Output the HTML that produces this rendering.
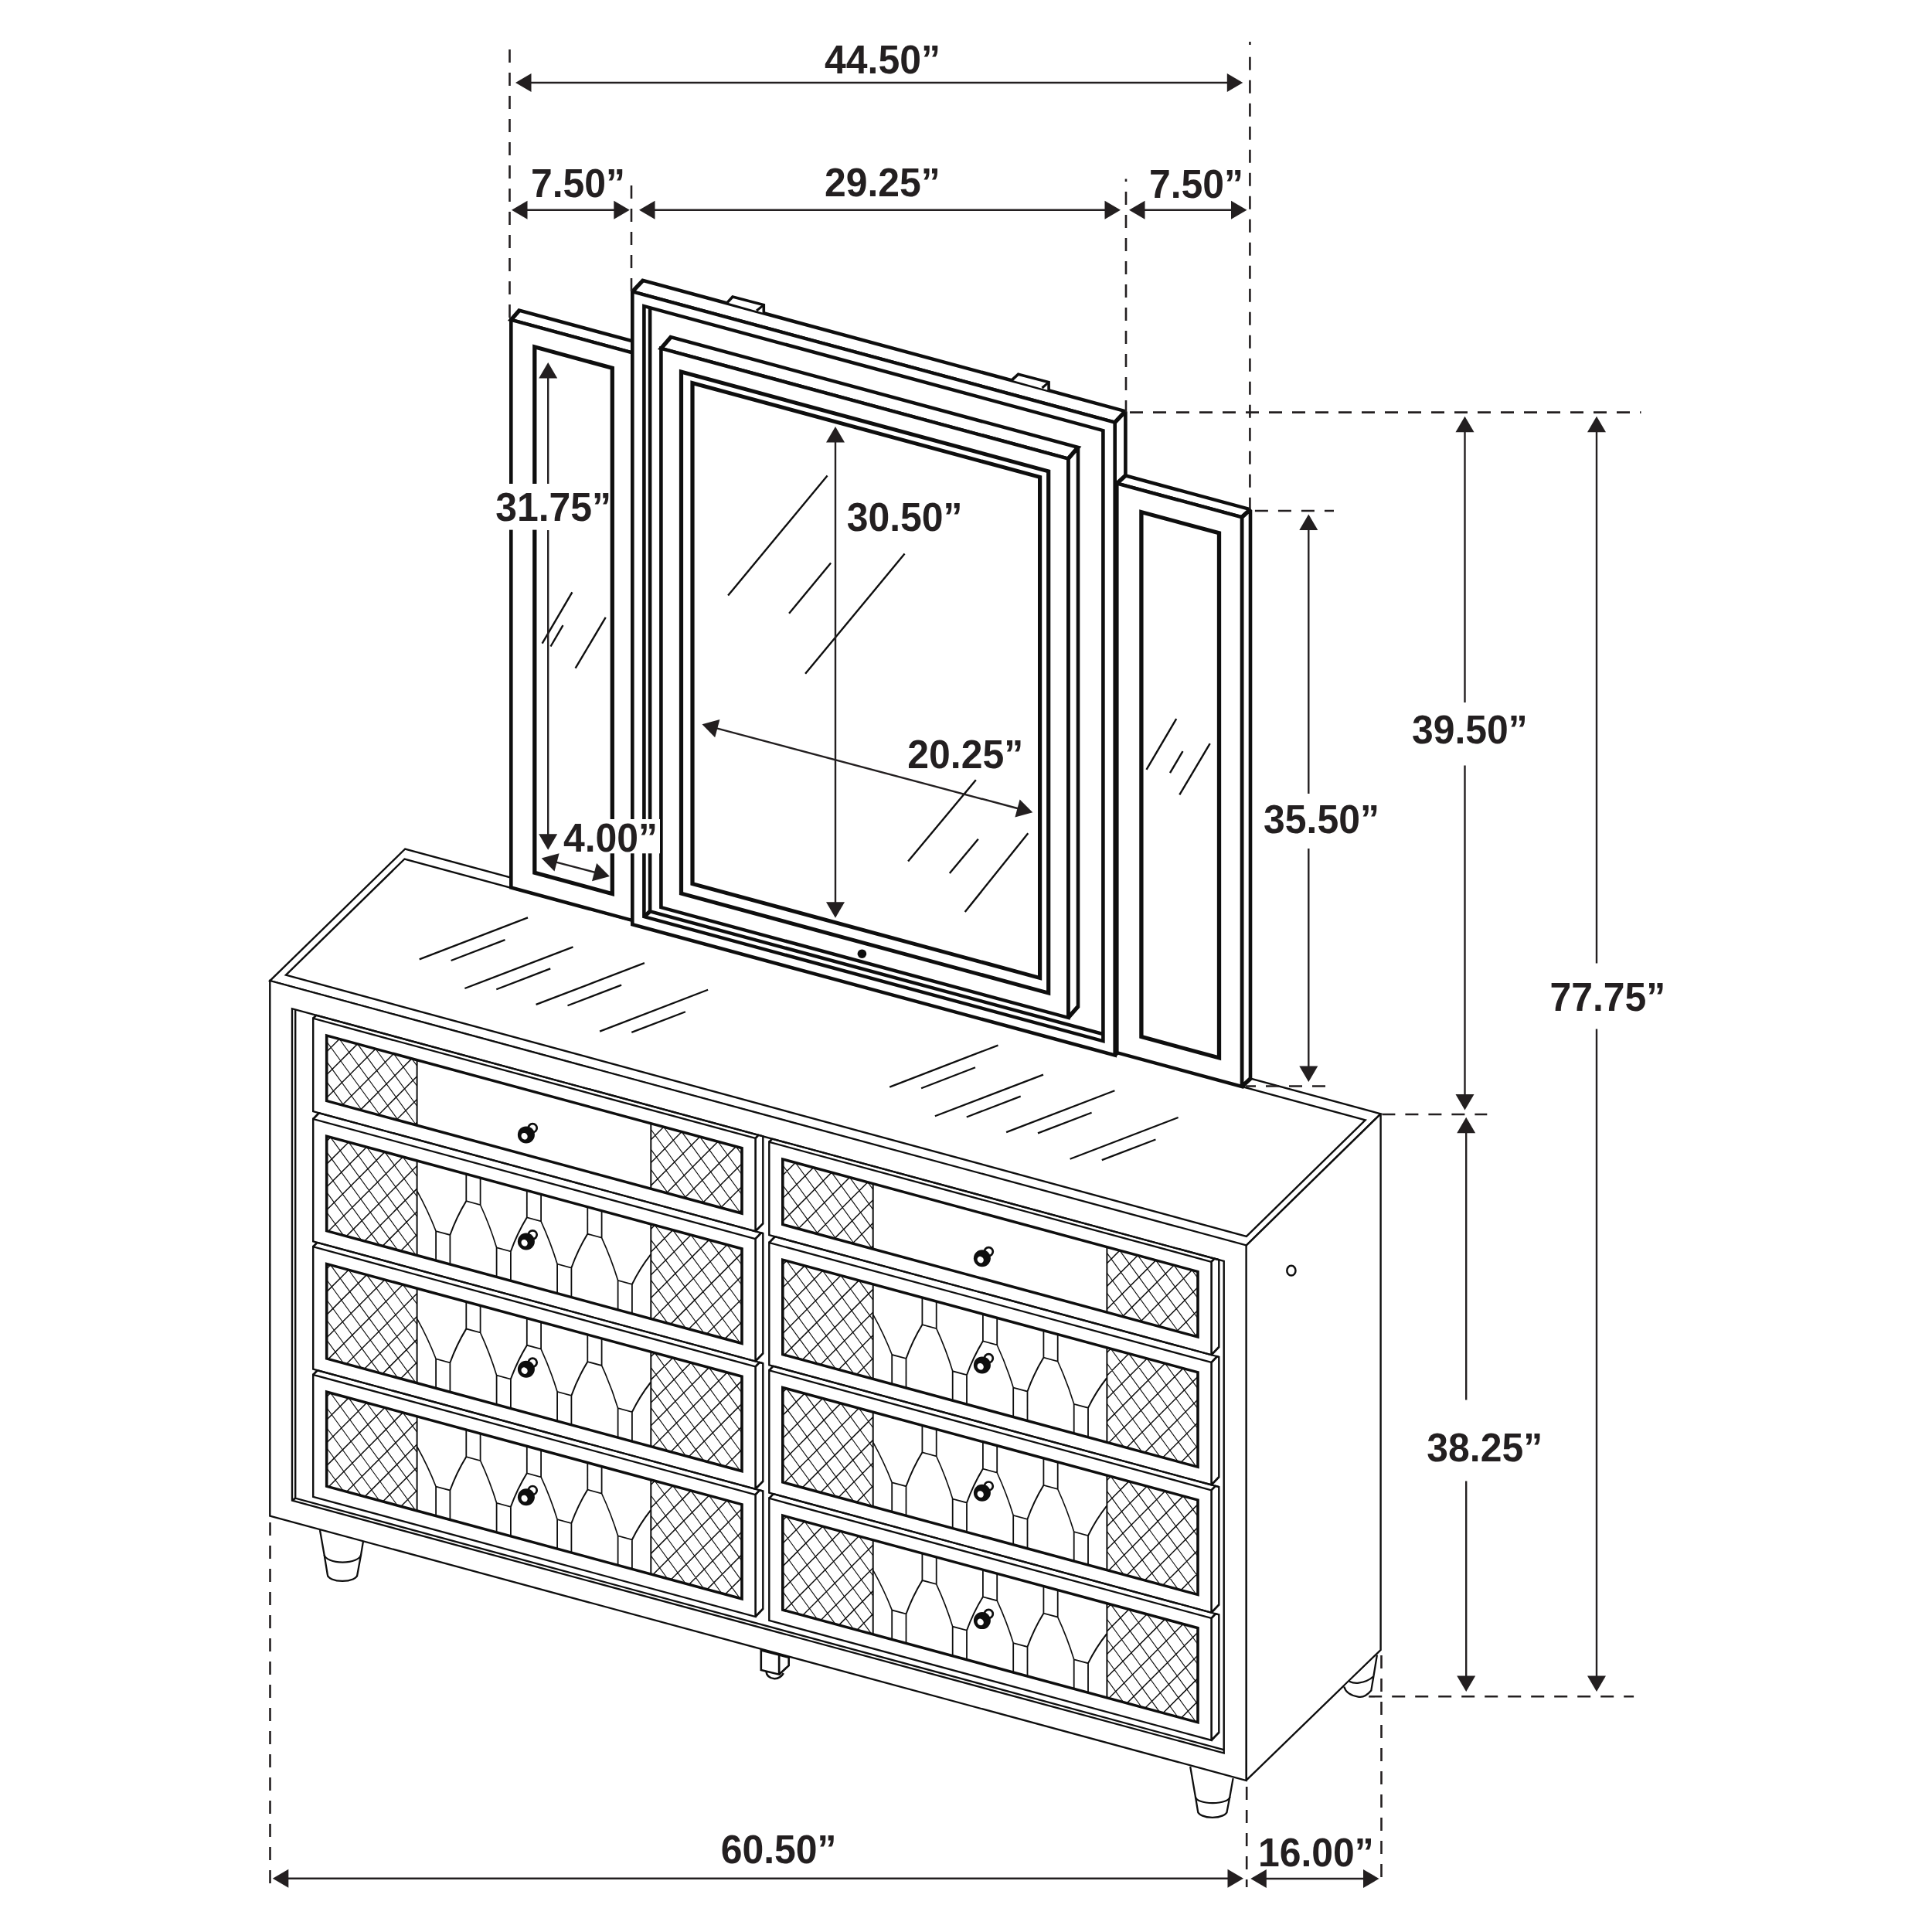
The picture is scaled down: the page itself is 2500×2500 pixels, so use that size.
<!DOCTYPE html>
<html><head><meta charset="utf-8"><title>Dresser and Mirror Dimensions</title>
<style>
html,body{margin:0;padding:0;background:#fff;}
body{width:2500px;height:2500px;overflow:hidden;}
svg{display:block;}
svg text{font-family:"Liberation Sans",sans-serif;font-weight:bold;fill:#231f20;}
</style></head><body>
<svg xmlns="http://www.w3.org/2000/svg" width="2500" height="2500" viewBox="0 0 2500 2500" stroke-linecap="butt" stroke-miterlimit="2.2">
<rect width="2500" height="2500" fill="#fff"/>
<polygon points="349.3,1269.1 524.2,1098.5 1786.6,1441.3 1611.9,1612.3" fill="#fff" stroke="#0e0e0e" stroke-width="2.4" stroke-linejoin="miter"/>
<polygon points="370,1261.6 523.5,1111.5 1766.7,1449.4 1612.9,1599.9" fill="none" stroke="#0e0e0e" stroke-width="2.4" stroke-linejoin="miter"/>
<polygon points="1611.9,1612.3 1786.6,1441.3 1786.6,2135 1612.7,2303.7" fill="#fff" stroke="#0e0e0e" stroke-width="2.4" stroke-linejoin="miter"/>
<ellipse cx="1670.9" cy="1644.2" rx="5.6" ry="6.4" fill="none" stroke="#0e0e0e" stroke-width="2.5"/>
<line x1="542.7" y1="1241.4" x2="683" y2="1187.4" stroke="#0e0e0e" stroke-width="2.3"/>
<line x1="583.6" y1="1243" x2="653.5" y2="1216.1" stroke="#0e0e0e" stroke-width="2.3"/>
<line x1="601.4" y1="1279" x2="741.5" y2="1225.4" stroke="#0e0e0e" stroke-width="2.3"/>
<line x1="642.3" y1="1280.3" x2="712.2" y2="1253.4" stroke="#0e0e0e" stroke-width="2.3"/>
<line x1="693.6" y1="1299.9" x2="833.9" y2="1246.1" stroke="#0e0e0e" stroke-width="2.3"/>
<line x1="734.5" y1="1301.2" x2="804.1" y2="1274.6" stroke="#0e0e0e" stroke-width="2.3"/>
<line x1="776.1" y1="1334.6" x2="916.1" y2="1280.8" stroke="#0e0e0e" stroke-width="2.3"/>
<line x1="817.3" y1="1335.9" x2="886.9" y2="1309.3" stroke="#0e0e0e" stroke-width="2.3"/>
<line x1="1151.2" y1="1406.6" x2="1291.5" y2="1352.6" stroke="#0e0e0e" stroke-width="2.3"/>
<line x1="1192.1" y1="1408.2" x2="1262" y2="1381.3" stroke="#0e0e0e" stroke-width="2.3"/>
<line x1="1209.9" y1="1444.2" x2="1350" y2="1390.6" stroke="#0e0e0e" stroke-width="2.3"/>
<line x1="1250.8" y1="1445.5" x2="1320.7" y2="1418.6" stroke="#0e0e0e" stroke-width="2.3"/>
<line x1="1302.1" y1="1465.1" x2="1442.4" y2="1411.3" stroke="#0e0e0e" stroke-width="2.3"/>
<line x1="1343" y1="1466.4" x2="1412.6" y2="1439.8" stroke="#0e0e0e" stroke-width="2.3"/>
<line x1="1384.6" y1="1499.8" x2="1524.6" y2="1446" stroke="#0e0e0e" stroke-width="2.3"/>
<line x1="1425.8" y1="1501.1" x2="1495.4" y2="1474.5" stroke="#0e0e0e" stroke-width="2.3"/>
<path d="M1781.9 2141.6L1777.5 2168.5L1774.3 2187.6Q1766 2197.5 1757.3 2195.6Q1742 2193 1739.2 2182.5" fill="#fff" stroke="#0e0e0e" stroke-width="2.3"/>
<path d="M1745.9 2175.7Q1752 2178.5 1758.3 2177.6Q1770 2176 1776.9 2169.5" fill="none" stroke="#0e0e0e" stroke-width="2.3"/>
<path d="M991.5 2163Q992 2171 1002.2 2172.3Q1010 2172 1013.8 2165.1" fill="none" stroke="#0e0e0e" stroke-width="2.6"/>
<polygon points="984.8,2135.5 1008.2,2141.5 1008.2,2166.7 984.8,2160.9" fill="#fff" stroke="#0e0e0e" stroke-width="2.6" stroke-linejoin="miter"/>
<polygon points="1008.2,2141.5 1020.7,2144.8 1020.7,2155.1 1008.2,2166.7" fill="#fff" stroke="#0e0e0e" stroke-width="2.6" stroke-linejoin="miter"/>
<path d="M414 1980L419.6 2011.9L423.8 2037.5A19.3 8.4 0 0 0 462.4 2037.5L467.1 2011.9L469.9 1994.9" fill="#fff" stroke="#0e0e0e" stroke-width="2.3" stroke-linejoin="round"/>
<path d="M419.6 2011.9A23.8 10.3 0 0 0 467.1 2011.9" fill="none" stroke="#0e0e0e" stroke-width="2.3"/>
<path d="M1540.2 2286L1546.9 2324.9L1550 2343.5A18.9 8.3 0 0 0 1587.8 2343.5L1591.4 2324.9L1595.6 2301.1" fill="#fff" stroke="#0e0e0e" stroke-width="2.3" stroke-linejoin="round"/>
<path d="M1546.9 2324.9A22.2 8.2 0 0 0 1591.4 2324.9" fill="none" stroke="#0e0e0e" stroke-width="2.3"/>
<g transform="matrix(1 0.271 0 1 0 -94.7)">
<rect x="349.3" y="1269.1" width="1263.3" height="692.5" fill="#fff" stroke="#0e0e0e" stroke-width="2.4"/>
<rect x="378" y="1297.5" width="1205.7" height="636.5" fill="none" stroke="#0e0e0e" stroke-width="2.4"/>
<polyline points="382.2,1297.5 382.2,1929.8 1583.7,1929.8" fill="none" stroke="#0e0e0e" stroke-width="2.4" stroke-linejoin="miter"/>
<line x1="378" y1="1934" x2="382.2" y2="1929.8" stroke="#0e0e0e" stroke-width="2.4"/>
<polygon points="977.5,1302.7 981.5,1297.5 987.3,1297.5 987.3,1410.3 977.5,1423.1" fill="#fff" stroke="#0e0e0e" stroke-width="2.4" stroke-linejoin="miter"/>
<line x1="405.2" y1="1302.7" x2="409.2" y2="1297.5" stroke="#0e0e0e" stroke-width="2.4"/>
<line x1="409.2" y1="1297.5" x2="987.3" y2="1297.5" stroke="#0e0e0e" stroke-width="2.4"/>
<rect x="405.2" y="1302.7" width="572.3" height="120.4" fill="#fff" stroke="#0e0e0e" stroke-width="2.4"/>
<path d="M422.7 1379.8L445.1 1404.7M422.7 1353.8L468.5 1404.7M422.7 1327.9L491.9 1404.7M439.2 1320.2L515.3 1404.7M422.7 1341.2L439.2 1320.2M462.6 1320.2L538.7 1404.7M422.7 1370.9L462.6 1320.2M486 1320.2L539.6 1379.7M422.7 1400.6L486 1320.2M509.4 1320.2L539.6 1353.7M442.9 1404.7L509.4 1320.2M532.8 1320.2L539.6 1327.7M466.3 1404.7L532.8 1320.2M489.7 1404.7L539.6 1341.3M513.1 1404.7L539.6 1371M536.5 1404.7L539.6 1400.7" fill="none" stroke="#0e0e0e" stroke-width="1.3"/>
<path d="M842.3 1379.8L864.7 1404.7M842.3 1353.8L888.1 1404.7M842.3 1327.9L911.5 1404.7M858.8 1320.2L934.9 1404.7M842.3 1341.2L858.8 1320.2M882.2 1320.2L958.3 1404.7M842.3 1370.9L882.2 1320.2M905.6 1320.2L960 1380.6M842.3 1400.6L905.6 1320.2M929 1320.2L960 1354.6M862.5 1404.7L929 1320.2M952.4 1320.2L960 1328.6M885.9 1404.7L952.4 1320.2M909.3 1404.7L960 1340.3M932.7 1404.7L960 1370M956.1 1404.7L960 1399.7" fill="none" stroke="#0e0e0e" stroke-width="1.3"/>
<line x1="539.6" y1="1320.2" x2="539.6" y2="1404.7" stroke="#0e0e0e" stroke-width="2"/>
<line x1="842.3" y1="1320.2" x2="842.3" y2="1404.7" stroke="#0e0e0e" stroke-width="2"/>
<rect x="422.7" y="1320.2" width="537.3" height="84.5" fill="none" stroke="#0e0e0e" stroke-width="3.6"/>
<polygon points="977.5,1432.9 985,1423.1 987.3,1423.1 987.3,1578.5 977.5,1591.3" fill="#fff" stroke="#0e0e0e" stroke-width="2.4" stroke-linejoin="miter"/>
<line x1="405.2" y1="1432.9" x2="412.7" y2="1423.1" stroke="#0e0e0e" stroke-width="2.4"/>
<line x1="412.7" y1="1423.1" x2="987.3" y2="1423.1" stroke="#0e0e0e" stroke-width="2.4"/>
<rect x="405.2" y="1432.9" width="572.3" height="158.4" fill="#fff" stroke="#0e0e0e" stroke-width="2.4"/>
<path d="M422.7 1548.7L444.5 1572.9M422.7 1522.8L467.9 1572.9M422.7 1496.8L491.3 1572.9M422.7 1470.8L514.7 1572.9M427.7 1450.4L538.1 1572.9M422.7 1456.8L427.7 1450.4M451.1 1450.4L539.6 1548.6M422.7 1486.5L451.1 1450.4M474.5 1450.4L539.6 1522.7M422.7 1516.2L474.5 1450.4M497.9 1450.4L539.6 1496.7M422.7 1545.9L497.9 1450.4M521.3 1450.4L539.6 1470.7M424.8 1572.9L521.3 1450.4M448.2 1572.9L539.6 1456.9M471.6 1572.9L539.6 1486.6M495 1572.9L539.6 1516.3M518.4 1572.9L539.6 1546" fill="none" stroke="#0e0e0e" stroke-width="1.3"/>
<path d="M842.3 1548.7L864.1 1572.9M842.3 1522.8L887.5 1572.9M842.3 1496.8L910.9 1572.9M842.3 1470.8L934.3 1572.9M847.3 1450.4L957.7 1572.9M842.3 1456.8L847.3 1450.4M870.7 1450.4L960 1549.5M842.3 1486.5L870.7 1450.4M894.1 1450.4L960 1523.5M842.3 1516.2L894.1 1450.4M917.5 1450.4L960 1497.6M842.3 1545.9L917.5 1450.4M940.9 1450.4L960 1471.6M844.4 1572.9L940.9 1450.4M867.8 1572.9L960 1455.9M891.2 1572.9L960 1485.6M914.6 1572.9L960 1515.3M938 1572.9L960 1545" fill="none" stroke="#0e0e0e" stroke-width="1.3"/>
<line x1="539.6" y1="1450.4" x2="539.6" y2="1572.9" stroke="#0e0e0e" stroke-width="2"/>
<line x1="842.3" y1="1450.4" x2="842.3" y2="1572.9" stroke="#0e0e0e" stroke-width="2"/>
<path d="M603.3 1450.4L603.3 1485.4L621.6 1485.4L621.6 1450.4M681.8 1450.4L681.8 1485.4L700.1 1485.4L700.1 1450.4M760.3 1450.4L760.3 1485.4L778.6 1485.4L778.6 1450.4M564.1 1572.9L564.1 1534.9L582.4 1534.9L582.4 1572.9M642.6 1572.9L642.6 1534.9L660.9 1534.9L660.9 1572.9M721.1 1572.9L721.1 1534.9L739.4 1534.9L739.4 1572.9M799.6 1572.9L799.6 1534.9L817.9 1534.9L817.9 1572.9M539.9 1489.9Q553.9 1511.4 564.1 1534.9M603.3 1485.4Q590.8 1509.3 582.4 1534.9M621.6 1485.4Q634.1 1509.3 642.6 1534.9M681.8 1485.4Q669.3 1509.3 660.9 1534.9M700.1 1485.4Q712.6 1509.3 721.1 1534.9M760.3 1485.4Q747.8 1509.3 739.4 1534.9M778.6 1485.4Q791.1 1509.3 799.6 1534.9M842 1489.9Q828 1511.4 817.9 1534.9" fill="none" stroke="#0e0e0e" stroke-width="1.8"/>
<rect x="422.7" y="1450.4" width="537.3" height="122.5" fill="none" stroke="#0e0e0e" stroke-width="3.6"/>
<polygon points="977.5,1598.2 982.8,1591.3 987.3,1591.3 987.3,1743.8 977.5,1756.6" fill="#fff" stroke="#0e0e0e" stroke-width="2.4" stroke-linejoin="miter"/>
<line x1="405.2" y1="1598.2" x2="410.5" y2="1591.3" stroke="#0e0e0e" stroke-width="2.4"/>
<line x1="410.5" y1="1591.3" x2="987.3" y2="1591.3" stroke="#0e0e0e" stroke-width="2.4"/>
<rect x="405.2" y="1598.2" width="572.3" height="158.4" fill="#fff" stroke="#0e0e0e" stroke-width="2.4"/>
<path d="M422.7 1714L444.5 1738.2M422.7 1688.1L467.9 1738.2M422.7 1662.1L491.3 1738.2M422.7 1636.1L514.7 1738.2M427.7 1615.7L538.1 1738.2M422.7 1622L427.7 1615.7M451.1 1615.7L539.6 1713.9M422.7 1651.8L451.1 1615.7M474.5 1615.7L539.6 1688M422.7 1681.5L474.5 1615.7M497.9 1615.7L539.6 1662M422.7 1711.2L497.9 1615.7M521.3 1615.7L539.6 1636M424.8 1738.2L521.3 1615.7M448.2 1738.2L539.6 1622.2M471.6 1738.2L539.6 1651.9M495 1738.2L539.6 1681.6M518.4 1738.2L539.6 1711.3" fill="none" stroke="#0e0e0e" stroke-width="1.3"/>
<path d="M842.3 1714L864.1 1738.2M842.3 1688.1L887.5 1738.2M842.3 1662.1L910.9 1738.2M842.3 1636.1L934.3 1738.2M847.3 1615.7L957.7 1738.2M842.3 1622L847.3 1615.7M870.7 1615.7L960 1714.8M842.3 1651.8L870.7 1615.7M894.1 1615.7L960 1688.8M842.3 1681.5L894.1 1615.7M917.5 1615.7L960 1662.9M842.3 1711.2L917.5 1615.7M940.9 1615.7L960 1636.9M844.4 1738.2L940.9 1615.7M867.8 1738.2L960 1621.2M891.2 1738.2L960 1650.9M914.6 1738.2L960 1680.6M938 1738.2L960 1710.3" fill="none" stroke="#0e0e0e" stroke-width="1.3"/>
<line x1="539.6" y1="1615.7" x2="539.6" y2="1738.2" stroke="#0e0e0e" stroke-width="2"/>
<line x1="842.3" y1="1615.7" x2="842.3" y2="1738.2" stroke="#0e0e0e" stroke-width="2"/>
<path d="M603.3 1615.7L603.3 1650.7L621.6 1650.7L621.6 1615.7M681.8 1615.7L681.8 1650.7L700.1 1650.7L700.1 1615.7M760.3 1615.7L760.3 1650.7L778.6 1650.7L778.6 1615.7M564.1 1738.2L564.1 1700.2L582.4 1700.2L582.4 1738.2M642.6 1738.2L642.6 1700.2L660.9 1700.2L660.9 1738.2M721.1 1738.2L721.1 1700.2L739.4 1700.2L739.4 1738.2M799.6 1738.2L799.6 1700.2L817.9 1700.2L817.9 1738.2M539.9 1655.2Q553.9 1676.7 564.1 1700.2M603.3 1650.7Q590.8 1674.6 582.4 1700.2M621.6 1650.7Q634.1 1674.6 642.6 1700.2M681.8 1650.7Q669.3 1674.6 660.9 1700.2M700.1 1650.7Q712.6 1674.6 721.1 1700.2M760.3 1650.7Q747.8 1674.6 739.4 1700.2M778.6 1650.7Q791.1 1674.6 799.6 1700.2M842 1655.2Q828 1676.7 817.9 1700.2" fill="none" stroke="#0e0e0e" stroke-width="1.8"/>
<rect x="422.7" y="1615.7" width="537.3" height="122.5" fill="none" stroke="#0e0e0e" stroke-width="3.6"/>
<polygon points="977.5,1763.8 983,1756.6 987.3,1756.6 987.3,1909 977.5,1921.8" fill="#fff" stroke="#0e0e0e" stroke-width="2.4" stroke-linejoin="miter"/>
<line x1="405.2" y1="1763.8" x2="410.7" y2="1756.6" stroke="#0e0e0e" stroke-width="2.4"/>
<line x1="410.7" y1="1756.6" x2="987.3" y2="1756.6" stroke="#0e0e0e" stroke-width="2.4"/>
<rect x="405.2" y="1763.8" width="572.3" height="158" fill="#fff" stroke="#0e0e0e" stroke-width="2.4"/>
<path d="M422.7 1879.6L444.1 1903.4M422.7 1853.7L467.5 1903.4M422.7 1827.7L490.9 1903.4M422.7 1801.7L514.3 1903.4M427.7 1781.3L537.7 1903.4M422.7 1787.7L427.7 1781.3M451.1 1781.3L539.6 1879.5M422.7 1817.4L451.1 1781.3M474.5 1781.3L539.6 1853.6M422.7 1847.1L474.5 1781.3M497.9 1781.3L539.6 1827.6M422.7 1876.8L497.9 1781.3M521.3 1781.3L539.6 1801.6M425.2 1903.4L521.3 1781.3M448.6 1903.4L539.6 1787.8M472 1903.4L539.6 1817.5M495.4 1903.4L539.6 1847.2M518.8 1903.4L539.6 1876.9" fill="none" stroke="#0e0e0e" stroke-width="1.3"/>
<path d="M842.3 1879.6L863.7 1903.4M842.3 1853.7L887.1 1903.4M842.3 1827.7L910.5 1903.4M842.3 1801.7L933.9 1903.4M847.3 1781.3L957.3 1903.4M842.3 1787.7L847.3 1781.3M870.7 1781.3L960 1880.4M842.3 1817.4L870.7 1781.3M894.1 1781.3L960 1854.4M842.3 1847.1L894.1 1781.3M917.5 1781.3L960 1828.5M842.3 1876.8L917.5 1781.3M940.9 1781.3L960 1802.5M844.8 1903.4L940.9 1781.3M868.2 1903.4L960 1786.8M891.6 1903.4L960 1816.5M915 1903.4L960 1846.2M938.4 1903.4L960 1875.9" fill="none" stroke="#0e0e0e" stroke-width="1.3"/>
<line x1="539.6" y1="1781.3" x2="539.6" y2="1903.4" stroke="#0e0e0e" stroke-width="2"/>
<line x1="842.3" y1="1781.3" x2="842.3" y2="1903.4" stroke="#0e0e0e" stroke-width="2"/>
<path d="M603.3 1781.3L603.3 1816.3L621.6 1816.3L621.6 1781.3M681.8 1781.3L681.8 1816.3L700.1 1816.3L700.1 1781.3M760.3 1781.3L760.3 1816.3L778.6 1816.3L778.6 1781.3M564.1 1903.4L564.1 1865.4L582.4 1865.4L582.4 1903.4M642.6 1903.4L642.6 1865.4L660.9 1865.4L660.9 1903.4M721.1 1903.4L721.1 1865.4L739.4 1865.4L739.4 1903.4M799.6 1903.4L799.6 1865.4L817.9 1865.4L817.9 1903.4M539.9 1820.8Q553.9 1842.1 564.1 1865.4M603.3 1816.3Q590.8 1840 582.4 1865.4M621.6 1816.3Q634.1 1840 642.6 1865.4M681.8 1816.3Q669.3 1840 660.9 1865.4M700.1 1816.3Q712.6 1840 721.1 1865.4M760.3 1816.3Q747.8 1840 739.4 1865.4M778.6 1816.3Q791.1 1840 799.6 1865.4M842 1820.8Q828 1842.1 817.9 1865.4" fill="none" stroke="#0e0e0e" stroke-width="1.8"/>
<rect x="422.7" y="1781.3" width="537.3" height="122.1" fill="none" stroke="#0e0e0e" stroke-width="3.6"/>
<polygon points="1567.5,1302.7 1571.5,1297.5 1577.3,1297.5 1577.3,1410.3 1567.5,1423.1" fill="#fff" stroke="#0e0e0e" stroke-width="2.4" stroke-linejoin="miter"/>
<line x1="995.3" y1="1302.7" x2="999.3" y2="1297.5" stroke="#0e0e0e" stroke-width="2.4"/>
<line x1="999.3" y1="1297.5" x2="1577.3" y2="1297.5" stroke="#0e0e0e" stroke-width="2.4"/>
<rect x="995.3" y="1302.7" width="572.2" height="120.4" fill="#fff" stroke="#0e0e0e" stroke-width="2.4"/>
<path d="M1012.8 1379.8L1035.2 1404.7M1012.8 1353.8L1058.6 1404.7M1012.8 1327.9L1082 1404.7M1029.3 1320.2L1105.4 1404.7M1012.8 1341.2L1029.3 1320.2M1052.7 1320.2L1128.8 1404.7M1012.8 1370.9L1052.7 1320.2M1076.1 1320.2L1129.7 1379.7M1012.8 1400.6L1076.1 1320.2M1099.5 1320.2L1129.7 1353.7M1033 1404.7L1099.5 1320.2M1122.9 1320.2L1129.7 1327.7M1056.4 1404.7L1122.9 1320.2M1079.8 1404.7L1129.7 1341.3M1103.2 1404.7L1129.7 1371M1126.6 1404.7L1129.7 1400.7" fill="none" stroke="#0e0e0e" stroke-width="1.3"/>
<path d="M1432.4 1379.8L1454.8 1404.7M1432.4 1353.8L1478.2 1404.7M1432.4 1327.9L1501.6 1404.7M1448.9 1320.2L1525 1404.7M1432.4 1341.2L1448.9 1320.2M1472.3 1320.2L1548.4 1404.7M1432.4 1370.9L1472.3 1320.2M1495.7 1320.2L1550 1380.5M1432.4 1400.6L1495.7 1320.2M1519.1 1320.2L1550 1354.5M1452.6 1404.7L1519.1 1320.2M1542.5 1320.2L1550 1328.5M1476 1404.7L1542.5 1320.2M1499.4 1404.7L1550 1340.4M1522.8 1404.7L1550 1370.1M1546.2 1404.7L1550 1399.8" fill="none" stroke="#0e0e0e" stroke-width="1.3"/>
<line x1="1129.7" y1="1320.2" x2="1129.7" y2="1404.7" stroke="#0e0e0e" stroke-width="2"/>
<line x1="1432.4" y1="1320.2" x2="1432.4" y2="1404.7" stroke="#0e0e0e" stroke-width="2"/>
<rect x="1012.8" y="1320.2" width="537.2" height="84.5" fill="none" stroke="#0e0e0e" stroke-width="3.6"/>
<polygon points="1567.5,1432.9 1575,1423.1 1577.3,1423.1 1577.3,1578.5 1567.5,1591.3" fill="#fff" stroke="#0e0e0e" stroke-width="2.4" stroke-linejoin="miter"/>
<line x1="995.3" y1="1432.9" x2="1002.8" y2="1423.1" stroke="#0e0e0e" stroke-width="2.4"/>
<line x1="1002.8" y1="1423.1" x2="1577.3" y2="1423.1" stroke="#0e0e0e" stroke-width="2.4"/>
<rect x="995.3" y="1432.9" width="572.2" height="158.4" fill="#fff" stroke="#0e0e0e" stroke-width="2.4"/>
<path d="M1012.8 1548.7L1034.6 1572.9M1012.8 1522.8L1058 1572.9M1012.8 1496.8L1081.4 1572.9M1012.8 1470.8L1104.8 1572.9M1017.8 1450.4L1128.2 1572.9M1012.8 1456.8L1017.8 1450.4M1041.2 1450.4L1129.7 1548.6M1012.8 1486.5L1041.2 1450.4M1064.6 1450.4L1129.7 1522.7M1012.8 1516.2L1064.6 1450.4M1088 1450.4L1129.7 1496.7M1012.8 1545.9L1088 1450.4M1111.4 1450.4L1129.7 1470.7M1014.9 1572.9L1111.4 1450.4M1038.3 1572.9L1129.7 1456.9M1061.7 1572.9L1129.7 1486.6M1085.1 1572.9L1129.7 1516.3M1108.5 1572.9L1129.7 1546" fill="none" stroke="#0e0e0e" stroke-width="1.3"/>
<path d="M1432.4 1548.7L1454.2 1572.9M1432.4 1522.8L1477.6 1572.9M1432.4 1496.8L1501 1572.9M1432.4 1470.8L1524.4 1572.9M1437.4 1450.4L1547.8 1572.9M1432.4 1456.8L1437.4 1450.4M1460.8 1450.4L1550 1549.4M1432.4 1486.5L1460.8 1450.4M1484.2 1450.4L1550 1523.4M1432.4 1516.2L1484.2 1450.4M1507.6 1450.4L1550 1497.5M1432.4 1545.9L1507.6 1450.4M1531 1450.4L1550 1471.5M1434.5 1572.9L1531 1450.4M1457.9 1572.9L1550 1456M1481.3 1572.9L1550 1485.7M1504.7 1572.9L1550 1515.4M1528.1 1572.9L1550 1545.1" fill="none" stroke="#0e0e0e" stroke-width="1.3"/>
<line x1="1129.7" y1="1450.4" x2="1129.7" y2="1572.9" stroke="#0e0e0e" stroke-width="2"/>
<line x1="1432.4" y1="1450.4" x2="1432.4" y2="1572.9" stroke="#0e0e0e" stroke-width="2"/>
<path d="M1193.4 1450.4L1193.4 1485.4L1211.7 1485.4L1211.7 1450.4M1271.9 1450.4L1271.9 1485.4L1290.2 1485.4L1290.2 1450.4M1350.4 1450.4L1350.4 1485.4L1368.7 1485.4L1368.7 1450.4M1154.2 1572.9L1154.2 1534.9L1172.5 1534.9L1172.5 1572.9M1232.7 1572.9L1232.7 1534.9L1251 1534.9L1251 1572.9M1311.2 1572.9L1311.2 1534.9L1329.5 1534.9L1329.5 1572.9M1389.7 1572.9L1389.7 1534.9L1408 1534.9L1408 1572.9M1130 1489.9Q1144 1511.4 1154.2 1534.9M1193.4 1485.4Q1180.9 1509.3 1172.5 1534.9M1211.7 1485.4Q1224.2 1509.3 1232.7 1534.9M1271.9 1485.4Q1259.4 1509.3 1251 1534.9M1290.2 1485.4Q1302.7 1509.3 1311.2 1534.9M1350.4 1485.4Q1337.9 1509.3 1329.5 1534.9M1368.7 1485.4Q1381.2 1509.3 1389.7 1534.9M1432.1 1489.9Q1418.1 1511.4 1408 1534.9" fill="none" stroke="#0e0e0e" stroke-width="1.8"/>
<rect x="1012.8" y="1450.4" width="537.2" height="122.5" fill="none" stroke="#0e0e0e" stroke-width="3.6"/>
<polygon points="1567.5,1598.2 1572.8,1591.3 1577.3,1591.3 1577.3,1743.8 1567.5,1756.6" fill="#fff" stroke="#0e0e0e" stroke-width="2.4" stroke-linejoin="miter"/>
<line x1="995.3" y1="1598.2" x2="1000.6" y2="1591.3" stroke="#0e0e0e" stroke-width="2.4"/>
<line x1="1000.6" y1="1591.3" x2="1577.3" y2="1591.3" stroke="#0e0e0e" stroke-width="2.4"/>
<rect x="995.3" y="1598.2" width="572.2" height="158.4" fill="#fff" stroke="#0e0e0e" stroke-width="2.4"/>
<path d="M1012.8 1714L1034.6 1738.2M1012.8 1688.1L1058 1738.2M1012.8 1662.1L1081.4 1738.2M1012.8 1636.1L1104.8 1738.2M1017.8 1615.7L1128.2 1738.2M1012.8 1622L1017.8 1615.7M1041.2 1615.7L1129.7 1713.9M1012.8 1651.8L1041.2 1615.7M1064.6 1615.7L1129.7 1688M1012.8 1681.5L1064.6 1615.7M1088 1615.7L1129.7 1662M1012.8 1711.2L1088 1615.7M1111.4 1615.7L1129.7 1636M1014.9 1738.2L1111.4 1615.7M1038.3 1738.2L1129.7 1622.2M1061.7 1738.2L1129.7 1651.9M1085.1 1738.2L1129.7 1681.6M1108.5 1738.2L1129.7 1711.3" fill="none" stroke="#0e0e0e" stroke-width="1.3"/>
<path d="M1432.4 1714L1454.2 1738.2M1432.4 1688.1L1477.6 1738.2M1432.4 1662.1L1501 1738.2M1432.4 1636.1L1524.4 1738.2M1437.4 1615.7L1547.8 1738.2M1432.4 1622L1437.4 1615.7M1460.8 1615.7L1550 1714.7M1432.4 1651.8L1460.8 1615.7M1484.2 1615.7L1550 1688.7M1432.4 1681.5L1484.2 1615.7M1507.6 1615.7L1550 1662.8M1432.4 1711.2L1507.6 1615.7M1531 1615.7L1550 1636.8M1434.5 1738.2L1531 1615.7M1457.9 1738.2L1550 1621.3M1481.3 1738.2L1550 1651M1504.7 1738.2L1550 1680.7M1528.1 1738.2L1550 1710.4" fill="none" stroke="#0e0e0e" stroke-width="1.3"/>
<line x1="1129.7" y1="1615.7" x2="1129.7" y2="1738.2" stroke="#0e0e0e" stroke-width="2"/>
<line x1="1432.4" y1="1615.7" x2="1432.4" y2="1738.2" stroke="#0e0e0e" stroke-width="2"/>
<path d="M1193.4 1615.7L1193.4 1650.7L1211.7 1650.7L1211.7 1615.7M1271.9 1615.7L1271.9 1650.7L1290.2 1650.7L1290.2 1615.7M1350.4 1615.7L1350.4 1650.7L1368.7 1650.7L1368.7 1615.7M1154.2 1738.2L1154.2 1700.2L1172.5 1700.2L1172.5 1738.2M1232.7 1738.2L1232.7 1700.2L1251 1700.2L1251 1738.2M1311.2 1738.2L1311.2 1700.2L1329.5 1700.2L1329.5 1738.2M1389.7 1738.2L1389.7 1700.2L1408 1700.2L1408 1738.2M1130 1655.2Q1144 1676.7 1154.2 1700.2M1193.4 1650.7Q1180.9 1674.6 1172.5 1700.2M1211.7 1650.7Q1224.2 1674.6 1232.7 1700.2M1271.9 1650.7Q1259.4 1674.6 1251 1700.2M1290.2 1650.7Q1302.7 1674.6 1311.2 1700.2M1350.4 1650.7Q1337.9 1674.6 1329.5 1700.2M1368.7 1650.7Q1381.2 1674.6 1389.7 1700.2M1432.1 1655.2Q1418.1 1676.7 1408 1700.2" fill="none" stroke="#0e0e0e" stroke-width="1.8"/>
<rect x="1012.8" y="1615.7" width="537.2" height="122.5" fill="none" stroke="#0e0e0e" stroke-width="3.6"/>
<polygon points="1567.5,1763.8 1573,1756.6 1577.3,1756.6 1577.3,1909 1567.5,1921.8" fill="#fff" stroke="#0e0e0e" stroke-width="2.4" stroke-linejoin="miter"/>
<line x1="995.3" y1="1763.8" x2="1000.8" y2="1756.6" stroke="#0e0e0e" stroke-width="2.4"/>
<line x1="1000.8" y1="1756.6" x2="1577.3" y2="1756.6" stroke="#0e0e0e" stroke-width="2.4"/>
<rect x="995.3" y="1763.8" width="572.2" height="158" fill="#fff" stroke="#0e0e0e" stroke-width="2.4"/>
<path d="M1012.8 1879.6L1034.2 1903.4M1012.8 1853.7L1057.6 1903.4M1012.8 1827.7L1081 1903.4M1012.8 1801.7L1104.4 1903.4M1017.8 1781.3L1127.8 1903.4M1012.8 1787.7L1017.8 1781.3M1041.2 1781.3L1129.7 1879.5M1012.8 1817.4L1041.2 1781.3M1064.6 1781.3L1129.7 1853.6M1012.8 1847.1L1064.6 1781.3M1088 1781.3L1129.7 1827.6M1012.8 1876.8L1088 1781.3M1111.4 1781.3L1129.7 1801.6M1015.3 1903.4L1111.4 1781.3M1038.7 1903.4L1129.7 1787.8M1062.1 1903.4L1129.7 1817.5M1085.5 1903.4L1129.7 1847.2M1108.9 1903.4L1129.7 1876.9" fill="none" stroke="#0e0e0e" stroke-width="1.3"/>
<path d="M1432.4 1879.6L1453.8 1903.4M1432.4 1853.7L1477.2 1903.4M1432.4 1827.7L1500.6 1903.4M1432.4 1801.7L1524 1903.4M1437.4 1781.3L1547.4 1903.4M1432.4 1787.7L1437.4 1781.3M1460.8 1781.3L1550 1880.3M1432.4 1817.4L1460.8 1781.3M1484.2 1781.3L1550 1854.3M1432.4 1847.1L1484.2 1781.3M1507.6 1781.3L1550 1828.4M1432.4 1876.8L1507.6 1781.3M1531 1781.3L1550 1802.4M1434.9 1903.4L1531 1781.3M1458.3 1903.4L1550 1786.9M1481.7 1903.4L1550 1816.6M1505.1 1903.4L1550 1846.3M1528.5 1903.4L1550 1876" fill="none" stroke="#0e0e0e" stroke-width="1.3"/>
<line x1="1129.7" y1="1781.3" x2="1129.7" y2="1903.4" stroke="#0e0e0e" stroke-width="2"/>
<line x1="1432.4" y1="1781.3" x2="1432.4" y2="1903.4" stroke="#0e0e0e" stroke-width="2"/>
<path d="M1193.4 1781.3L1193.4 1816.3L1211.7 1816.3L1211.7 1781.3M1271.9 1781.3L1271.9 1816.3L1290.2 1816.3L1290.2 1781.3M1350.4 1781.3L1350.4 1816.3L1368.7 1816.3L1368.7 1781.3M1154.2 1903.4L1154.2 1865.4L1172.5 1865.4L1172.5 1903.4M1232.7 1903.4L1232.7 1865.4L1251 1865.4L1251 1903.4M1311.2 1903.4L1311.2 1865.4L1329.5 1865.4L1329.5 1903.4M1389.7 1903.4L1389.7 1865.4L1408 1865.4L1408 1903.4M1130 1820.8Q1144 1842.1 1154.2 1865.4M1193.4 1816.3Q1180.9 1840 1172.5 1865.4M1211.7 1816.3Q1224.2 1840 1232.7 1865.4M1271.9 1816.3Q1259.4 1840 1251 1865.4M1290.2 1816.3Q1302.7 1840 1311.2 1865.4M1350.4 1816.3Q1337.9 1840 1329.5 1865.4M1368.7 1816.3Q1381.2 1840 1389.7 1865.4M1432.1 1820.8Q1418.1 1842.1 1408 1865.4" fill="none" stroke="#0e0e0e" stroke-width="1.8"/>
<rect x="1012.8" y="1781.3" width="537.2" height="122.1" fill="none" stroke="#0e0e0e" stroke-width="3.6"/>
</g>
<circle cx="689.2" cy="1459.7" r="5.5" fill="#fff" stroke="#0e0e0e" stroke-width="2.7"/>
<circle cx="680.9" cy="1468.4" r="11" fill="#0e0e0e"/>
<ellipse cx="678.6" cy="1470.2" rx="3.9" ry="4.5" fill="#fff" transform="rotate(-35 678.6 1470.2)"/>
<circle cx="689.2" cy="1597.8" r="5.5" fill="#fff" stroke="#0e0e0e" stroke-width="2.7"/>
<circle cx="680.9" cy="1606.5" r="11" fill="#0e0e0e"/>
<ellipse cx="678.6" cy="1608.3" rx="3.9" ry="4.5" fill="#fff" transform="rotate(-35 678.6 1608.3)"/>
<circle cx="689.2" cy="1763.1" r="5.5" fill="#fff" stroke="#0e0e0e" stroke-width="2.7"/>
<circle cx="680.9" cy="1771.8" r="11" fill="#0e0e0e"/>
<ellipse cx="678.6" cy="1773.6" rx="3.9" ry="4.5" fill="#fff" transform="rotate(-35 678.6 1773.6)"/>
<circle cx="689.2" cy="1928.5" r="5.5" fill="#fff" stroke="#0e0e0e" stroke-width="2.7"/>
<circle cx="680.9" cy="1937.2" r="11" fill="#0e0e0e"/>
<ellipse cx="678.6" cy="1939" rx="3.9" ry="4.5" fill="#fff" transform="rotate(-35 678.6 1939)"/>
<circle cx="1279.3" cy="1619.6" r="5.5" fill="#fff" stroke="#0e0e0e" stroke-width="2.7"/>
<circle cx="1270.9" cy="1628.3" r="11" fill="#0e0e0e"/>
<ellipse cx="1268.7" cy="1630.1" rx="3.9" ry="4.5" fill="#fff" transform="rotate(-35 1268.7 1630.1)"/>
<circle cx="1279.3" cy="1757.7" r="5.5" fill="#fff" stroke="#0e0e0e" stroke-width="2.7"/>
<circle cx="1270.9" cy="1766.4" r="11" fill="#0e0e0e"/>
<ellipse cx="1268.7" cy="1768.2" rx="3.9" ry="4.5" fill="#fff" transform="rotate(-35 1268.7 1768.2)"/>
<circle cx="1279.3" cy="1923" r="5.5" fill="#fff" stroke="#0e0e0e" stroke-width="2.7"/>
<circle cx="1270.9" cy="1931.7" r="11" fill="#0e0e0e"/>
<ellipse cx="1268.7" cy="1933.5" rx="3.9" ry="4.5" fill="#fff" transform="rotate(-35 1268.7 1933.5)"/>
<circle cx="1279.3" cy="2088.4" r="5.5" fill="#fff" stroke="#0e0e0e" stroke-width="2.7"/>
<circle cx="1270.9" cy="2097.1" r="11" fill="#0e0e0e"/>
<ellipse cx="1268.7" cy="2098.9" rx="3.9" ry="4.5" fill="#fff" transform="rotate(-35 1268.7 2098.9)"/>
<g transform="matrix(1 0.271 0 1 0 -94.7)">
<polygon points="661.3,329.4 672,314.3 840,314.3 840,329.4" fill="#fff" stroke="#0e0e0e" stroke-width="4.6" stroke-linejoin="miter"/>
<rect x="661.3" y="329.4" width="178.7" height="734.6" fill="#fff" stroke="#0e0e0e" stroke-width="4.6"/>
<rect x="691.8" y="356.2" width="100.5" height="680.3" fill="none" stroke="#0e0e0e" stroke-width="5.3"/>
</g>
<line x1="740.4" y1="766.4" x2="701.6" y2="832.7" stroke="#0e0e0e" stroke-width="2.4"/>
<line x1="728.5" y1="809.2" x2="712.5" y2="836.5" stroke="#0e0e0e" stroke-width="2.4"/>
<line x1="783.7" y1="798.8" x2="744.6" y2="864.7" stroke="#0e0e0e" stroke-width="2.4"/>
<g transform="matrix(1 0.271 0 1 0 -94.7)">
<polygon points="818.3,250.3 832,232.2 1456.4,232.2 1442.7,250.3" fill="#fff" stroke="#0e0e0e" stroke-width="4.6" stroke-linejoin="miter"/>
<polygon points="1442.7,250.3 1456.4,232.2 1456.4,1051 1442.7,1069.2" fill="#fff" stroke="#0e0e0e" stroke-width="4.6" stroke-linejoin="miter"/>
<rect x="818.3" y="250.3" width="624.4" height="818.9" fill="#fff" stroke="#0e0e0e" stroke-width="4.6"/>
<rect x="833.4" y="265" width="594" height="790" fill="none" stroke="#0e0e0e" stroke-width="4.6"/>
<polyline points="841.1,265 841.1,1046 1427.4,1046" fill="none" stroke="#0e0e0e" stroke-width="4.6" stroke-linejoin="miter"/>
<line x1="833.4" y1="1055" x2="841.1" y2="1046" stroke="#0e0e0e" stroke-width="4.6"/>
<polygon points="855.4,313.7 868.1,295.6 1395,295.6 1382.3,313.7" fill="#fff" stroke="#0e0e0e" stroke-width="4.6" stroke-linejoin="miter"/>
<polygon points="1382.3,313.7 1395,295.6 1395,1019 1382.3,1037" fill="#fff" stroke="#0e0e0e" stroke-width="4.6" stroke-linejoin="miter"/>
<rect x="855.4" y="313.7" width="526.9" height="723.3" fill="#fff" stroke="#0e0e0e" stroke-width="4.6"/>
<rect x="881.5" y="336.9" width="475.2" height="675.1" fill="none" stroke="#0e0e0e" stroke-width="5.2"/>
<rect x="896" y="347.5" width="449.6" height="648" fill="none" stroke="#0e0e0e" stroke-width="5.2"/>
<polygon points="1445.3,328.5 1456.3,315.5 1618,315.5 1607,328.5" fill="#fff" stroke="#0e0e0e" stroke-width="4.6" stroke-linejoin="miter"/>
<polygon points="1607,328.5 1618,315.5 1618,1052 1607,1065.2" fill="#fff" stroke="#0e0e0e" stroke-width="4.6" stroke-linejoin="miter"/>
<rect x="1445.3" y="328.5" width="161.7" height="736.7" fill="#fff" stroke="#0e0e0e" stroke-width="4.6"/>
<rect x="1476.9" y="357" width="100.6" height="679" fill="none" stroke="#0e0e0e" stroke-width="5.3"/>
</g>
<polyline points="941,391.6 948,384 988.3,394.6 988.3,405" fill="#fff" stroke="#0e0e0e" stroke-width="3.6" stroke-linejoin="miter"/>
<line x1="979" y1="402" x2="988.3" y2="394.6" stroke="#0e0e0e" stroke-width="3"/>
<polyline points="1309.3,491.8 1317.6,484.2 1357.1,494.6 1357.1,505.3" fill="#fff" stroke="#0e0e0e" stroke-width="3.6" stroke-linejoin="miter"/>
<line x1="1348.5" y1="502" x2="1357.1" y2="494.6" stroke="#0e0e0e" stroke-width="3"/>
<line x1="1070.6" y1="615.4" x2="942.1" y2="770.6" stroke="#0e0e0e" stroke-width="2.4"/>
<line x1="1075.1" y1="728.6" x2="1021.1" y2="793.7" stroke="#0e0e0e" stroke-width="2.4"/>
<line x1="1170.6" y1="716.6" x2="1042.1" y2="871.8" stroke="#0e0e0e" stroke-width="2.4"/>
<line x1="1262.8" y1="1009.3" x2="1175.1" y2="1114.4" stroke="#0e0e0e" stroke-width="2.4"/>
<line x1="1265.8" y1="1085.8" x2="1228.8" y2="1130" stroke="#0e0e0e" stroke-width="2.4"/>
<line x1="1330.3" y1="1078.3" x2="1248.7" y2="1180" stroke="#0e0e0e" stroke-width="2.4"/>
<line x1="1522.2" y1="930.1" x2="1483.5" y2="995.9" stroke="#0e0e0e" stroke-width="2.4"/>
<line x1="1530.5" y1="972.2" x2="1514" y2="1000.1" stroke="#0e0e0e" stroke-width="2.4"/>
<line x1="1565.7" y1="962.2" x2="1526.3" y2="1028.4" stroke="#0e0e0e" stroke-width="2.4"/>
<circle cx="1115.4" cy="1234.2" r="5.8" fill="#0e0e0e"/>
<line x1="659.5" y1="64" x2="659.5" y2="411" stroke="#231f20" stroke-width="2.6" stroke-dasharray="17 13" stroke-dashoffset="0"/>
<line x1="817" y1="240" x2="817" y2="377" stroke="#231f20" stroke-width="2.6" stroke-dasharray="17 13" stroke-dashoffset="0"/>
<line x1="1457" y1="248" x2="1457" y2="533.6" stroke="#231f20" stroke-width="2.6" stroke-dasharray="17 13" stroke-dashoffset="0"/>
<line x1="1457" y1="231.5" x2="1457" y2="235" stroke="#231f20" stroke-width="2.6"/>
<line x1="1617.4" y1="73.8" x2="1617.4" y2="659" stroke="#231f20" stroke-width="2.6" stroke-dasharray="17 13" stroke-dashoffset="0"/>
<line x1="1617.4" y1="54" x2="1617.4" y2="58" stroke="#231f20" stroke-width="2.6"/>
<line x1="1462" y1="533.6" x2="2123.5" y2="533.6" stroke="#231f20" stroke-width="2.6" stroke-dasharray="17 13" stroke-dashoffset="0"/>
<line x1="1623.9" y1="661" x2="1726" y2="661" stroke="#231f20" stroke-width="2.6" stroke-dasharray="17 13" stroke-dashoffset="0"/>
<line x1="1612" y1="1405.5" x2="1716.6" y2="1405.5" stroke="#231f20" stroke-width="2.6" stroke-dasharray="17 13" stroke-dashoffset="4"/>
<line x1="1788.4" y1="1442" x2="1924.3" y2="1442" stroke="#231f20" stroke-width="2.6" stroke-dasharray="17 13" stroke-dashoffset="0"/>
<line x1="1771.2" y1="2195.3" x2="2114.1" y2="2195.3" stroke="#231f20" stroke-width="2.6" stroke-dasharray="17 13" stroke-dashoffset="0"/>
<line x1="349.5" y1="1970" x2="349.5" y2="2447" stroke="#231f20" stroke-width="2.6" stroke-dasharray="17 13" stroke-dashoffset="0"/>
<line x1="1613.2" y1="2312" x2="1613.2" y2="2442" stroke="#231f20" stroke-width="2.6" stroke-dasharray="17 13" stroke-dashoffset="0"/>
<line x1="1787.5" y1="2142" x2="1787.5" y2="2442" stroke="#231f20" stroke-width="2.6" stroke-dasharray="17 13" stroke-dashoffset="0"/>
<line x1="685.5" y1="107" x2="1589.8" y2="107" stroke="#231f20" stroke-width="2.4"/>
<polygon points="667,107 687.5,95 687.5,119" fill="#231f20" stroke="none" stroke-width="0" stroke-linejoin="miter"/>
<polygon points="1608.3,107 1587.8,119 1587.8,95" fill="#231f20" stroke="none" stroke-width="0" stroke-linejoin="miter"/>
<line x1="680.5" y1="271.7" x2="796.3" y2="271.7" stroke="#231f20" stroke-width="2.4"/>
<polygon points="662,271.7 682.5,259.7 682.5,283.7" fill="#231f20" stroke="none" stroke-width="0" stroke-linejoin="miter"/>
<polygon points="814.8,271.7 794.3,283.7 794.3,259.7" fill="#231f20" stroke="none" stroke-width="0" stroke-linejoin="miter"/>
<line x1="845.5" y1="271.7" x2="1431.5" y2="271.7" stroke="#231f20" stroke-width="2.4"/>
<polygon points="827,271.7 847.5,259.7 847.5,283.7" fill="#231f20" stroke="none" stroke-width="0" stroke-linejoin="miter"/>
<polygon points="1450,271.7 1429.5,283.7 1429.5,259.7" fill="#231f20" stroke="none" stroke-width="0" stroke-linejoin="miter"/>
<line x1="1479.5" y1="271.7" x2="1595" y2="271.7" stroke="#231f20" stroke-width="2.4"/>
<polygon points="1461,271.7 1481.5,259.7 1481.5,283.7" fill="#231f20" stroke="none" stroke-width="0" stroke-linejoin="miter"/>
<polygon points="1613.5,271.7 1593,283.7 1593,259.7" fill="#231f20" stroke="none" stroke-width="0" stroke-linejoin="miter"/>
<line x1="371.3" y1="2430.8" x2="1590.5" y2="2430.8" stroke="#231f20" stroke-width="2.4"/>
<polygon points="352.8,2430.8 373.3,2418.8 373.3,2442.8" fill="#231f20" stroke="none" stroke-width="0" stroke-linejoin="miter"/>
<polygon points="1609,2430.8 1588.5,2442.8 1588.5,2418.8" fill="#231f20" stroke="none" stroke-width="0" stroke-linejoin="miter"/>
<line x1="1636.8" y1="2431" x2="1766" y2="2431" stroke="#231f20" stroke-width="2.4"/>
<polygon points="1618.3,2431 1638.8,2419 1638.8,2443" fill="#231f20" stroke="none" stroke-width="0" stroke-linejoin="miter"/>
<polygon points="1784.5,2431 1764,2443 1764,2419" fill="#231f20" stroke="none" stroke-width="0" stroke-linejoin="miter"/>
<line x1="709.2" y1="487.5" x2="709.2" y2="626" stroke="#231f20" stroke-width="2.4"/>
<line x1="709.2" y1="686" x2="709.2" y2="1081.3" stroke="#231f20" stroke-width="2.4"/>
<polygon points="709.2,469 721.2,489.5 697.2,489.5" fill="#231f20" stroke="none" stroke-width="0" stroke-linejoin="miter"/>
<polygon points="709.2,1099.8 697.2,1079.3 721.2,1079.3" fill="#231f20" stroke="none" stroke-width="0" stroke-linejoin="miter"/>
<line x1="1081" y1="570.4" x2="1081" y2="1169.2" stroke="#231f20" stroke-width="2.4"/>
<polygon points="1081,551.9 1093,572.4 1069,572.4" fill="#231f20" stroke="none" stroke-width="0" stroke-linejoin="miter"/>
<polygon points="1081,1187.7 1069,1167.2 1093,1167.2" fill="#231f20" stroke="none" stroke-width="0" stroke-linejoin="miter"/>
<line x1="1693.3" y1="684.1" x2="1693.3" y2="1027" stroke="#231f20" stroke-width="2.4"/>
<line x1="1693.3" y1="1098" x2="1693.3" y2="1381.5" stroke="#231f20" stroke-width="2.4"/>
<polygon points="1693.3,665.6 1705.3,686.1 1681.3,686.1" fill="#231f20" stroke="none" stroke-width="0" stroke-linejoin="miter"/>
<polygon points="1693.3,1400 1681.3,1379.5 1705.3,1379.5" fill="#231f20" stroke="none" stroke-width="0" stroke-linejoin="miter"/>
<line x1="1895.5" y1="557.3" x2="1895.5" y2="909" stroke="#231f20" stroke-width="2.4"/>
<line x1="1895.5" y1="990.4" x2="1895.5" y2="1418.1" stroke="#231f20" stroke-width="2.4"/>
<polygon points="1895.5,538.8 1907.5,559.3 1883.5,559.3" fill="#231f20" stroke="none" stroke-width="0" stroke-linejoin="miter"/>
<polygon points="1895.5,1436.6 1883.5,1416.1 1907.5,1416.1" fill="#231f20" stroke="none" stroke-width="0" stroke-linejoin="miter"/>
<line x1="2066" y1="557.3" x2="2066" y2="1246.4" stroke="#231f20" stroke-width="2.4"/>
<line x1="2066" y1="1331.5" x2="2066" y2="2170.5" stroke="#231f20" stroke-width="2.4"/>
<polygon points="2066,538.8 2078,559.3 2054,559.3" fill="#231f20" stroke="none" stroke-width="0" stroke-linejoin="miter"/>
<polygon points="2066,2189 2054,2168.5 2078,2168.5" fill="#231f20" stroke="none" stroke-width="0" stroke-linejoin="miter"/>
<line x1="1897.2" y1="1464.2" x2="1897.2" y2="1811.6" stroke="#231f20" stroke-width="2.4"/>
<line x1="1897.2" y1="1916.5" x2="1897.2" y2="2170.5" stroke="#231f20" stroke-width="2.4"/>
<polygon points="1897.2,1445.7 1909.2,1466.2 1885.2,1466.2" fill="#231f20" stroke="none" stroke-width="0" stroke-linejoin="miter"/>
<polygon points="1897.2,2189 1885.2,2168.5 1909.2,2168.5" fill="#231f20" stroke="none" stroke-width="0" stroke-linejoin="miter"/>
<line x1="718.6" y1="1115.3" x2="771" y2="1129.2" stroke="#231f20" stroke-width="2.4"/>
<polygon points="700.7,1110.6 723.6,1104.2 717.5,1127.4" fill="#231f20" stroke="none" stroke-width="0" stroke-linejoin="miter"/>
<polygon points="788.9,1133.9 766,1140.3 772.1,1117.1" fill="#231f20" stroke="none" stroke-width="0" stroke-linejoin="miter"/>
<line x1="926.4" y1="942.1" x2="1318.4" y2="1046.5" stroke="#231f20" stroke-width="2.4"/>
<polygon points="908.5,937.3 931.4,931 925.2,954.2" fill="#231f20" stroke="none" stroke-width="0" stroke-linejoin="miter"/>
<polygon points="1336.3,1051.3 1313.4,1057.6 1319.6,1034.4" fill="#231f20" stroke="none" stroke-width="0" stroke-linejoin="miter"/>
<text transform="translate(1067.1 95.1) scale(1 1.04)" font-size="49.9">44.50”</text>
<text transform="translate(686.9 255.1) scale(1 1.04)" font-size="49.9">7.50”</text>
<text transform="translate(1067 253.9) scale(1 1.04)" font-size="49.9">29.25”</text>
<text transform="translate(1486.9 255.5) scale(1 1.04)" font-size="49.9">7.50”</text>
<rect x="638" y="626" width="151" height="59.6" fill="#fff"/>
<text transform="translate(641.2 673.7) scale(1 1.04)" font-size="49.9">31.75”</text>
<text transform="translate(1095.7 687) scale(1 1.04)" font-size="49.9">30.50”</text>
<rect x="724" y="1060" width="130" height="44.3" fill="#fff"/>
<text transform="translate(728.9 1102.1) scale(1 1.04)" font-size="49.9">4.00”</text>
<text transform="translate(1174.3 993.6) scale(1 1.04)" font-size="49.9">20.25”</text>
<text transform="translate(1826.9 962) scale(1 1.04)" font-size="49.9">39.50”</text>
<text transform="translate(1635.1 1078) scale(1 1.04)" font-size="49.9">35.50”</text>
<text transform="translate(2005.5 1308) scale(1 1.04)" font-size="49.9">77.75”</text>
<text transform="translate(1846.3 1891.3) scale(1 1.04)" font-size="49.9">38.25”</text>
<text transform="translate(932.7 2411.2) scale(1 1.04)" font-size="49.9">60.50”</text>
<text transform="translate(1627.9 2414.9) scale(1 1.04)" font-size="49.9">16.00”</text>
</svg>
</body></html>
